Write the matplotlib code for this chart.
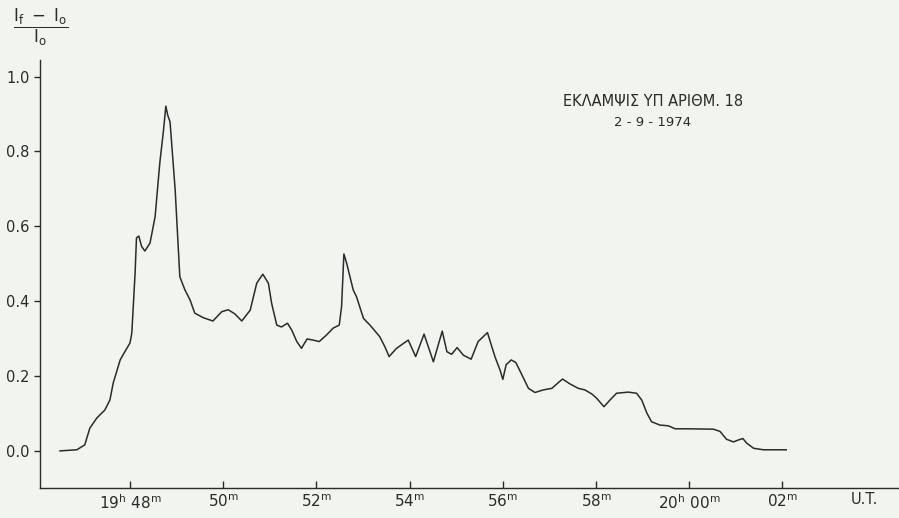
import matplotlib
matplotlib.use("Agg")
import matplotlib.pyplot as plt

# ========= 数据 (minutes after 19h 48m) =========
t_min = [-1.50, -1.14, -0.97, -0.86, -0.71, -0.54, -0.43, -0.36, -0.21, -0.11,
         0.00, 0.04, 0.11, 0.14, 0.19, 0.25, 0.32, 0.43, 0.54, 0.64,
         0.72, 0.77, 0.81, 0.86, 0.97, 1.07, 1.18, 1.29, 1.39, 1.57,
         1.78, 1.97, 2.11, 2.25, 2.40, 2.58, 2.72, 2.85, 2.97, 3.04,
         3.15, 3.25, 3.38, 3.47, 3.58, 3.68, 3.80, 3.93, 4.06, 4.22,
         4.36, 4.49, 4.54, 4.59, 4.65, 4.79, 4.86, 5.01, 5.15, 5.36,
         5.47, 5.56, 5.72, 5.97, 6.13, 6.31, 6.51, 6.70, 6.80, 6.90,
         7.02, 7.15, 7.32, 7.47, 7.67, 7.83, 7.94, 8.00, 8.07, 8.18,
         8.28, 8.41, 8.55, 8.69, 8.87, 9.05, 9.28, 9.44, 9.62, 9.76,
         9.91, 10.01, 10.17, 10.30, 10.44, 10.69, 10.87, 10.98, 11.09, 11.19,
         11.37, 11.55, 11.70, 12.02, 12.52, 12.66, 12.80, 12.95, 13.05, 13.15,
         13.23, 13.38, 13.59, 14.08]

ratio = [0.000, 0.003, 0.016, 0.061, 0.088, 0.109, 0.136, 0.181, 0.243, 0.265,
         0.288, 0.315, 0.475, 0.569, 0.574, 0.546, 0.534, 0.555, 0.626, 0.769,
         0.857, 0.921, 0.897, 0.879, 0.697, 0.465, 0.430, 0.403, 0.368, 0.356,
         0.347, 0.372, 0.377, 0.366, 0.347, 0.376, 0.448, 0.472, 0.448, 0.394,
         0.336, 0.331, 0.341, 0.323, 0.292, 0.274, 0.299, 0.296, 0.292, 0.310,
         0.328, 0.336, 0.385, 0.526, 0.501, 0.430, 0.412, 0.354, 0.336, 0.305,
         0.278, 0.252, 0.274, 0.296, 0.252, 0.312, 0.238, 0.320, 0.265, 0.258,
         0.276, 0.256, 0.245, 0.292, 0.316, 0.252, 0.216, 0.191, 0.230, 0.243,
         0.236, 0.203, 0.167, 0.156, 0.163, 0.167, 0.192, 0.179, 0.167, 0.163,
         0.152, 0.141, 0.118, 0.136, 0.154, 0.157, 0.154, 0.136, 0.101, 0.078,
         0.069, 0.067, 0.059, 0.059, 0.058, 0.052, 0.031, 0.024, 0.029, 0.033,
         0.021, 0.007, 0.003, 0.003]

x_ticks = [0, 2, 4, 6, 8, 10, 12, 14]
x_labels = [r"$19^{\mathrm{h}}\ 48^{\mathrm{m}}$", r"$50^{\mathrm{m}}$", r"$52^{\mathrm{m}}$",
            r"$54^{\mathrm{m}}$", r"$56^{\mathrm{m}}$", r"$58^{\mathrm{m}}$",
            r"$20^{\mathrm{h}}\ 00^{\mathrm{m}}$", r"$02^{\mathrm{m}}$"]
y_ticks = [0.0, 0.2, 0.4, 0.6, 0.8, 1.0]
y_labels = ["0.0", "0.2", "0.4", "0.6", "0.8", "1.0"]

# ========= 样式 =========
BG = "#f1f4ef"
INK = "#2b2b2b"

fig = plt.figure(figsize=(8.99, 5.18), dpi=100, facecolor=BG)
ax = fig.add_axes([0.0445, 0.058, 0.9555, 0.826], facecolor=BG)

ax.plot(t_min, ratio, color=INK, linewidth=1.1)

ax.set_xlim(-1.93, 16.5)
ax.set_ylim(-0.099, 1.044)

ax.spines["top"].set_visible(False)
ax.spines["right"].set_visible(False)
for s in ["left", "bottom"]:
    ax.spines[s].set_color(INK)
    ax.spines[s].set_linewidth(1.0)

ax.set_xticks(x_ticks)
ax.set_xticklabels(x_labels, fontsize=11, color=INK)
ax.set_yticks(y_ticks)
ax.set_yticklabels(y_labels, fontsize=10.5, color=INK)
ax.tick_params(axis="x", direction="in", length=5, width=1.0, color=INK, pad=4)
ax.tick_params(axis="y", direction="out", length=4.5, width=1.0, color=INK, pad=3)

# y 轴标签 (分式)
fig.text(41 / 899, 1 - 27 / 518, r"$\dfrac{\mathrm{I_f\ -\ I_o}}{\mathrm{I_o}}$",
         fontsize=12, color=INK, ha="center", va="center")

# 右下 U.T.
fig.text(864 / 899, 1 - 500 / 518, "U.T.", fontsize=10.5, color=INK,
         ha="center", va="center")

# 标题注释
fig.text(653 / 899, 1 - 102 / 518, "ΕΚΛΑΜΨΙΣ ΥΠ ΑΡΙΘΜ. 18", fontsize=10.5,
         color=INK, ha="center", va="center")
fig.text(653 / 899, 1 - 122 / 518, "2 - 9 - 1974", fontsize=9.5,
         color=INK, ha="center", va="center")

fig.savefig("out.png", dpi=100, facecolor=BG)
